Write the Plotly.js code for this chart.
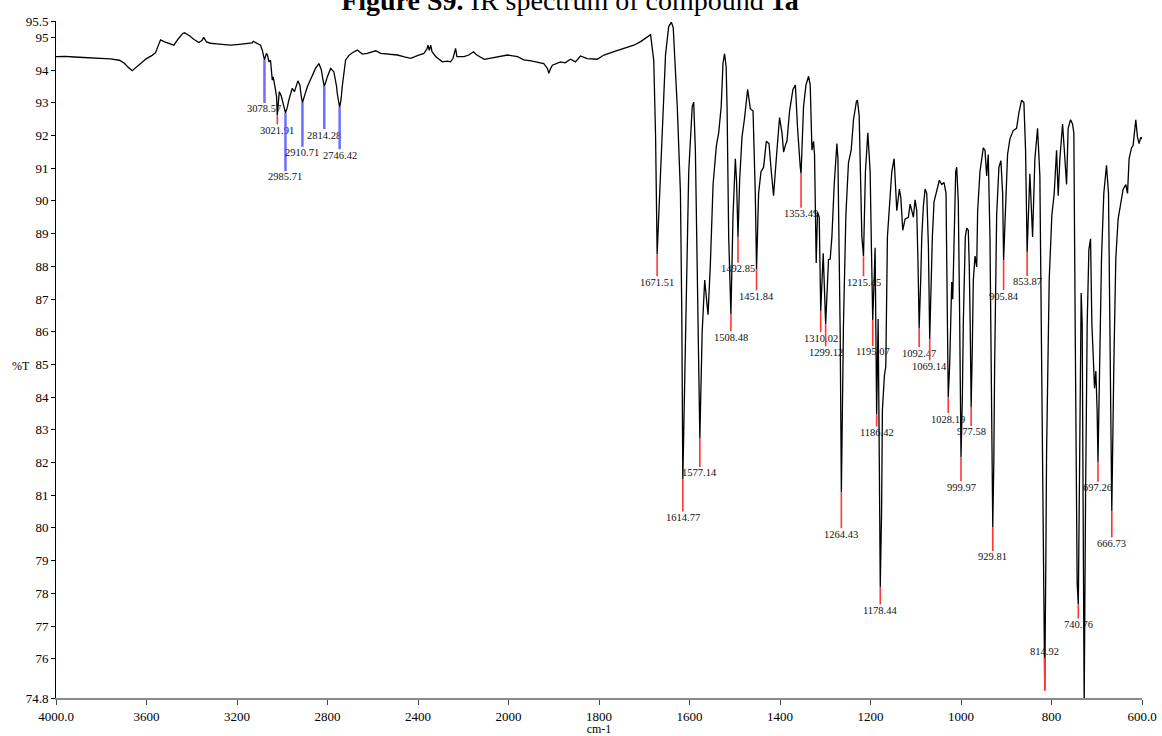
<!DOCTYPE html>
<html><head><meta charset="utf-8">
<script src="https://cdn.plot.ly/plotly-3.0.1.min.js"></script>
<style>html,body{margin:0;padding:0;background:#fff}#chart{width:1162px;height:736px}</style>
</head><body><div id="chart"></div>
<script>
// ---- spectrum (cm-1, %T) ----
const wavenumber = [
4000,3960,3920,3880,3840,3800,3760,3720,3700,3680,3663,3640,3620,3600,3575,3560,3545,3538,3520,3500,3479,3460,3440,3432,3410,3391,3369,3355,3347,3335,3317,3290,3260,3230,3200,3160,3133,3128,3110,3096,3088,3078.57,3070,3065,3059,3052,3044,3040,3030,3025,3021.91,3018,3013,3004,2995,2985.71,2978,2971,2956,2946,2931,2922,2916,2910.71,2900,2889,2875,2862,2853,2838,2827,2820,2814.28,2808,2801,2786,2772,2760,2757,2746.42,2740,2735,2720,2705,2690,2668,2646,2624,2605,2587,2565,2530,2491,2460,2432,2400,2374,2360,2356,2350,2344,2338,2320,2292,2270,2256,2245,2234,2228,2197,2175,2155,2140,2107,2080,2048,2004,
1980,1966,1950,1936,1922,1914,1911,1907,1903,1885,1875,1863,1852,1841,1826,1804,1789,1767,1745,1723,1708,1695,1686,1679,1675,1671.51,1668,1666,1660,1653,1646,1640,1636,1633,1627,1620,1617,1614.77,1611,1609,1601.7,1594,1590.7,1587,1582,1577.14,1572,1566.4,1561,1559,1553.8,1547.9,1540.6,1535.5,1530,1526,1522.5,1519,1517,1513.4,1508.48,1503.8,1498.7,1496,1492.85,1489.2,1484,1478.8,1471.5,1468,1465.6,1459.6,1454.6,1451.84,1447.3,1442,1436.2,1430.3,1424.3,1419.2,1414.2,1408.2,1401,1395.6,1392,1388.4,1384.6,1378.8,1371.4,1366,1361.2,1355.2,1353.49,1348,1342.7,1336.9,1333.2,1329.4,1325.9,1323.7,1320,1317.1,1313.3,1310.02,1304.5,1299.12,1292.8,1289.1,1285.3,1280.2,1276,1274.3,1272,1270.7,1267,1264.43,1261,1259.7,1254.4,1248.7,1242.7,1237.6,1231,1228.8,1225,1222.9,1219.1,1215.45,1211.2,1205.9,1200.8,1198,1195.07,1192,1189.8,1186.42,1183.1,1180.5,1178.44,1175.5,1173.7,1169.2,1166.2,1162.6,1158.2,1153,1147.8,1141.9,1136.2,1133,1128.7,1123.6,1116.3,1112.5,1108.8,1105.2,1101.5,1097.8,1095,1092.47,1089,1086.7,1083.2,1079.4,1075.7,1072,1069.14,1066,1063.3,1059.6,1053.6,1047.9,1042.6,1037.5,1033.1,1030.5,1028.19,1025,1022.7,1020.5,1018.3,1015.4,1011.7,1009.5,1006,1003,999.97,997,994.9,990.5,987.4,983.9,981.7,979.5,977.58,975,972.8,969,965.3,963.2,958.1,950.8,947,943.3,939.8,936,932.3,929.81,927.5,925.7,921.2,916.2,911.8,908,905.84,900.8,897.1,892,884.7,877.2,872.2,866.1,861,857.3,853.87,847.8,841.8,836.7,830.8,825.7,821.3,818,814.92,812.5,810.9,805.1,799.2,794,788.8,785.2,781.5,775.5,770.5,766.7,763.2,757.9,753.5,750.6,747.7,743.3,740.76,737.3,734.4,732.2,730,727.8,724.7,721.1,717.4,713.7,710.8,708,704.9,702,699.2,697.26,693.2,689.5,684.4,678.5,674,669.6,666.73,662.3,657.9,652.8,647.5,641.7,635.8,632,628.5,623.2,619.7,613.7,610,606.4,602.7,600
];
const transmittance = [
94.41,94.42,94.40,94.39,94.38,94.36,94.34,94.30,94.22,94.08,93.98,94.12,94.25,94.35,94.45,94.53,94.80,94.92,94.86,94.80,94.76,94.95,95.12,95.14,95.05,94.94,94.84,94.90,95.00,94.86,94.82,94.80,94.79,94.76,94.78,94.80,94.83,94.88,94.82,94.76,94.60,94.31,94.51,94.45,94.25,94.30,93.69,93.79,93.40,93.18,92.62,93.10,93.34,93.20,92.95,92.69,92.85,93.08,93.44,93.34,93.67,93.54,93.20,93.00,93.25,93.49,93.71,93.90,94.05,94.20,94.00,93.70,93.51,93.62,93.79,94.05,93.95,93.50,93.29,92.86,93.10,93.49,94.31,94.45,94.53,94.61,94.49,94.51,94.55,94.59,94.51,94.48,94.46,94.40,94.36,94.45,94.51,94.65,94.76,94.60,94.76,94.56,94.40,94.25,94.27,94.25,94.36,94.66,94.41,94.41,94.46,94.56,94.46,94.33,94.37,94.41,94.46,
94.41,94.31,94.28,94.25,94.20,94.05,93.90,94.05,94.15,94.25,94.22,94.33,94.25,94.43,94.35,94.33,94.46,94.56,94.66,94.76,94.87,95.00,95.08,94.30,92.00,88.37,89.50,90.23,92.22,94.47,95.33,95.46,95.30,94.60,92.88,90.24,86.50,81.48,84.00,86.26,90.89,92.88,93.02,91.55,86.26,82.75,85.99,87.58,86.79,86.52,88.11,90.50,91.69,92.08,92.88,94.20,94.50,94.10,92.88,88.90,86.53,89.57,91.29,90.60,88.90,90.63,91.95,92.48,93.41,93.00,92.82,92.75,90.23,87.91,90.23,90.89,91.03,91.82,91.75,90.89,90.16,91.29,92.55,92.08,91.49,91.69,91.82,92.75,93.41,93.54,92.22,91.03,90.83,92.88,93.54,93.81,93.54,91.55,91.82,91.42,88.10,89.65,89.50,86.63,88.40,86.23,88.20,88.22,88.90,90.50,91.60,91.75,91.30,90.23,86.00,81.09,84.50,86.26,89.57,91.16,91.55,92.48,93.05,93.08,92.60,91.55,88.90,88.31,90.89,92.08,90.89,88.60,86.36,87.60,88.57,83.47,86.39,82.00,78.18,80.50,83.61,84.67,84.93,88.90,89.97,90.89,91.29,89.70,90.36,90.10,89.10,89.44,89.50,89.90,89.70,89.50,90.03,89.70,88.10,86.11,87.60,88.90,89.83,90.36,90.23,88.60,85.77,87.60,88.90,89.97,90.36,90.63,90.50,90.56,90.23,87.50,84.00,85.00,86.26,87.52,86.99,88.90,90.89,91.03,89.97,86.50,82.16,84.00,86.26,88.90,89.17,89.10,88.00,86.00,83.70,85.50,87.58,88.31,87.98,89.70,90.89,91.62,91.55,90.76,91.42,88.90,83.61,80.03,82.00,84.93,89.57,91.03,91.23,90.23,88.19,89.97,91.42,91.89,92.15,92.22,92.68,93.08,93.01,91.55,88.44,90.83,88.90,91.29,92.22,90.76,84.93,79.50,75.03,79.00,82.28,87.58,89.57,90.23,91.55,90.16,91.29,92.35,91.16,90.50,92.22,92.48,92.35,92.08,86.26,78.31,77.66,82.28,87.18,86.26,78.31,74.60,80.96,86.26,88.51,88.84,86.26,85.46,84.27,84.80,83.61,82.02,84.93,88.24,90.23,91.09,90.23,84.93,80.50,84.93,88.24,89.44,89.83,90.36,90.50,90.23,91.29,91.62,91.69,92.48,91.95,91.75,91.95,91.89
];

// ---- labelled peaks ----
const peakLabels = ['3078.57','3021.91','2985.71','2910.71','2814.28','2746.42','1671.51','1614.77','1577.14','1508.48','1492.85','1451.84','1353.49','1310.02','1299.12','1264.43','1215.45','1195.07','1186.42','1178.44','1092.47','1069.14','1028.19','999.97','977.58','929.81','905.84','853.87','814.92','740.76','697.26','666.73'];
const peakWavenumber = [3078.57,3021.91,2985.71,2910.71,2814.28,2746.42,1671.51,1614.77,1577.14,1508.48,1492.85,1451.84,1353.49,1310.02,1299.12,1264.43,1215.45,1195.07,1186.42,1178.44,1092.47,1069.14,1028.19,999.97,977.58,929.81,905.84,853.87,814.92,740.76,697.26,666.73];
const peakTransmittance = [94.31,92.62,92.69,93.00,93.51,92.86,88.37,81.48,82.75,86.53,88.90,87.91,90.83,86.63,86.23,81.09,88.31,86.36,83.47,78.18,86.11,85.77,84.00,82.16,83.70,80.03,88.19,88.44,75.03,77.66,82.02,80.50];

// label placement (pixels below the peak tip) and marker colours
const labelDrop = [49,15,64,50,49,48,28,38,35,23,32,27,40,27,28,42,26,32,18,23,25,27,22,30,25,30,36,30,-39,20,26,32];
const bluePeaks = ['3078.57','2985.71','2910.71','2814.28','2746.42'];

// ---- axis ticks ----
const xTickWavenumbers = [4000,3600,3200,2800,2400,2000,1800,1600,1400,1200,1000,800,600];
const xTickLabels = ['4000.0','3600','3200','2800','2400','2000','1800','1600','1400','1200','1000','800','600.0'];
const yTickValues = [95.5,95,94,93,92,91,90,89,88,87,86,85,84,83,82,81,80,79,78,77,76,74.8];
const yTickLabels = ['95.5','95','94','93','92','91','90','89','88','87','86','85','84','83','82','81','80','79','78','77','76','74.8'];

// instrument x-scale: 2x compression above 2000 cm-1
const scaleX = w => (w > 2000 ? 2000 + (w - 2000) / 2 : w);

const FONT = 'Liberation Serif, Times New Roman, serif';

const trace = {
  x: wavenumber.map(scaleX),
  y: transmittance,
  type: 'scatter',
  mode: 'lines',
  line: {color: '#000', width: 1.3},
  hoverinfo: 'skip'
};

const annotations = peakLabels.map((lab, i) => {
  const blue = bluePeaks.includes(lab);
  return {
    x: scaleX(peakWavenumber[i]), y: peakTransmittance[i],
    xref: 'x', yref: 'y',
    text: lab, showarrow: true, arrowhead: 0, standoff: 0, startstandoff: 0,
    arrowcolor: blue ? 'rgba(95,95,255,0.9)' : '#ff3535',
    arrowwidth: blue ? 2.5 : 1.6,
    ax: 0, ay: labelDrop[i],
    borderpad: 0,
    font: {family: FONT, size: 10.5, color: '#111'}
  };
});

annotations.push({
  text: '%T', xref: 'paper', yref: 'paper', x: -0.0325, y: 0.49,
  xanchor: 'center', yanchor: 'middle',
  showarrow: false, font: {family: FONT, size: 12, color: '#000'}
});

const layout = {
  width: 1162, height: 736,
  margin: {l: 56, r: 20, t: 21, b: 38},
  paper_bgcolor: '#fff', plot_bgcolor: '#fff',
  showlegend: false,
  font: {family: FONT, color: '#000'},
  title: {
    text: '<b>Figure S9.</b> IR spectrum of compound <b>1a</b>',
    font: {family: FONT, size: 28, color: '#000'},
    x: 0.4905, xanchor: 'center', xref: 'container',
    y: 1, yanchor: 'middle', yref: 'container'
  },
  xaxis: {
    range: [scaleX(4000), scaleX(600)],
    tickmode: 'array',
    tickvals: xTickWavenumbers.map(scaleX),
    ticktext: xTickLabels,
    ticks: 'outside', ticklen: 5, tickwidth: 1, tickcolor: '#444',
    showline: true, linecolor: '#8a8a8a', linewidth: 2,
    showgrid: false, zeroline: false,
    tickfont: {family: FONT, size: 13, color: '#000'},
    title: {text: 'cm-1', font: {family: FONT, size: 12, color: '#000'}, standoff: 2}
  },
  yaxis: {
    range: [74.8, 95.5],
    tickmode: 'array',
    tickvals: yTickValues, ticktext: yTickLabels,
    ticks: 'outside', ticklen: 4, tickwidth: 1, tickcolor: '#000',
    showline: true, linecolor: '#000', linewidth: 1,
    showgrid: false, zeroline: false,
    tickfont: {family: FONT, size: 13, color: '#000'}
  },
  annotations: annotations
};

Plotly.newPlot('chart', [trace], layout, {displayModeBar: false, staticPlot: true});
</script>
</body></html>
